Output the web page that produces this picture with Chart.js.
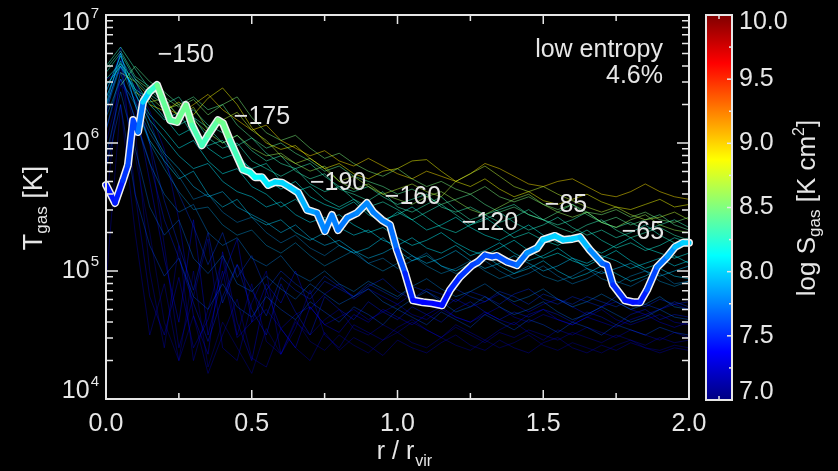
<!DOCTYPE html>
<html>
<head>
<meta charset="utf-8">
<script src="https://cdn.jsdelivr.net/npm/chart.js@4.4.1/dist/chart.umd.min.js"></script>
<style>
  html, body { margin: 0; padding: 0; background: #000; }
  #wrap { width: 838px; height: 471px; }
</style>
</head>
<body>
<div id="wrap"><canvas id="chart" width="838" height="471"></canvas></div>
<script>
// ---- radial grid shared by the tracer profiles (r / r_vir) ----
const radiusGrid = [0.00,0.05,0.10,0.15,0.20,0.25,0.30,0.35,0.40,0.45,0.50,0.55,0.60,0.65,0.70,0.75,0.80,0.85,0.90,0.95,
  1.00,1.05,1.10,1.15,1.20,1.25,1.30,1.35,1.40,1.45,1.50,1.55,1.60,1.65,1.70,1.75,1.80,1.85,1.90,1.95,2.00];

// ---- tracer profiles: log10 T_gas [K] on radiusGrid (null = not present) ----
const tracerLogT = [
  [null,null,null,6.30,6.25,6.32,6.22,6.35,6.43,6.30,6.12,6.00,5.95,5.98,5.88,5.80,5.84,5.76,5.72,5.78,5.80,5.86,5.87,5.78,5.70,5.66,5.72,5.64,5.58,5.62,5.55,5.52,5.56,5.60,5.54,5.50,5.48,5.52,5.56,5.50,5.52],
  [null,null,6.40,6.32,6.35,6.20,6.28,6.10,6.18,6.24,6.10,6.02,5.90,5.84,5.88,5.80,5.70,5.74,5.66,5.60,5.64,5.68,5.62,5.58,5.70,5.76,5.82,5.74,5.66,5.62,5.66,5.60,5.55,5.50,5.46,5.50,5.44,5.40,5.42,5.46,5.40],
  [null,6.55,6.48,6.36,6.26,6.30,6.18,6.08,6.00,6.06,5.96,5.90,5.92,5.84,5.78,5.82,5.70,5.64,5.68,5.60,5.56,5.52,5.58,5.62,5.55,5.48,5.44,5.50,5.56,5.60,5.52,5.46,5.42,5.46,5.38,5.34,5.40,5.44,5.36,5.32,5.30],
  [null,null,null,null,6.28,6.22,6.30,6.38,6.26,6.18,6.10,6.14,6.02,5.96,5.90,5.94,5.86,5.82,5.88,5.82,5.76,5.72,5.78,5.74,5.70,5.76,5.84,5.80,5.74,5.68,5.66,5.70,5.72,5.66,5.60,5.58,5.62,5.68,5.62,5.58,5.56],
  [6.60,6.75,6.58,6.42,6.30,6.36,6.20,6.12,6.00,6.06,5.94,5.86,5.90,5.78,5.72,5.76,5.64,5.60,5.55,5.62,5.50,5.46,5.52,5.58,5.48,5.40,5.44,5.38,5.42,5.48,5.40,5.34,5.30,5.36,5.40,5.32,5.26,5.30,5.34,5.28,5.24],
  [6.50,6.62,6.48,6.30,6.18,6.24,6.05,5.98,6.02,5.88,5.80,5.84,5.70,5.62,5.66,5.56,5.50,5.56,5.46,5.40,5.44,5.50,5.42,5.34,5.30,5.36,5.42,5.34,5.26,5.30,5.24,5.20,5.26,5.32,5.24,5.18,5.22,5.16,5.20,5.26,5.22],
  [6.40,6.68,6.42,6.22,6.10,5.96,6.02,5.86,5.76,5.80,5.66,5.60,5.50,5.56,5.46,5.40,5.44,5.36,5.30,5.34,5.26,5.20,5.24,5.30,5.22,5.16,5.12,5.18,5.24,5.16,5.10,5.14,5.08,5.04,5.10,5.16,5.08,5.02,5.06,5.12,5.06],
  [null,6.45,6.60,6.48,6.40,6.30,6.36,6.26,6.30,6.14,6.04,5.96,6.00,5.92,5.86,5.78,5.82,5.74,5.70,5.66,5.60,5.64,5.58,5.52,5.56,5.60,5.52,5.46,5.50,5.44,5.40,5.46,5.52,5.44,5.38,5.42,5.36,5.40,5.44,5.36,5.32],
  [6.30,6.70,6.30,6.02,5.86,5.72,5.78,5.60,5.50,5.56,5.42,5.36,5.40,5.30,5.24,5.30,5.20,5.14,5.18,5.26,5.16,5.08,5.12,5.04,5.00,5.06,5.12,5.04,4.98,5.02,5.08,5.00,4.94,4.98,5.04,4.98,4.92,4.96,5.02,4.96,4.94],
  [6.45,6.60,6.42,6.34,6.20,6.06,6.12,5.96,5.88,5.92,5.78,5.72,5.64,5.70,5.58,5.52,5.48,5.54,5.44,5.38,5.46,5.40,5.32,5.36,5.42,5.34,5.28,5.24,5.30,5.36,5.28,5.22,5.26,5.18,5.14,5.20,5.26,5.18,5.14,5.10,5.14],
  [6.55,6.70,6.50,6.38,6.30,6.14,6.20,6.04,5.96,6.00,5.86,5.80,5.74,5.80,5.68,5.62,5.66,5.56,5.50,5.54,5.48,5.40,5.46,5.52,5.44,5.36,5.40,5.46,5.38,5.32,5.36,5.42,5.34,5.28,5.32,5.26,5.30,5.36,5.28,5.22,5.26],
  [null,null,6.50,6.42,6.36,6.28,6.34,6.22,6.30,6.36,6.20,6.08,6.02,6.06,5.96,5.88,5.92,5.84,5.78,5.74,5.80,5.72,5.66,5.70,5.64,5.60,5.66,5.58,5.54,5.58,5.52,5.48,5.52,5.46,5.44,5.48,5.42,5.46,5.40,5.38,5.42],
  [6.35,6.64,6.38,6.18,6.04,5.90,5.80,5.84,5.70,5.62,5.58,5.50,5.54,5.44,5.38,5.42,5.34,5.28,5.32,5.24,5.20,5.26,5.18,5.14,5.20,5.12,5.16,5.22,5.14,5.08,5.12,5.18,5.10,5.06,5.12,5.08,5.02,5.06,5.10,5.04,5.08],
  [6.58,6.72,6.52,6.44,6.32,6.22,6.26,6.14,6.08,5.98,6.04,5.92,5.84,5.80,5.84,5.74,5.66,5.62,5.66,5.58,5.52,5.56,5.60,5.50,5.46,5.50,5.44,5.48,5.52,5.44,5.40,5.36,5.40,5.46,5.38,5.34,5.38,5.32,5.36,5.40,5.34],
  [6.28,6.62,6.40,6.12,5.92,5.80,5.66,5.58,5.62,5.50,5.44,5.38,5.30,5.36,5.26,5.20,5.24,5.16,5.10,5.14,5.20,5.12,5.06,5.10,5.16,5.08,5.02,5.06,5.12,5.06,5.00,5.04,5.10,5.02,4.98,5.02,5.06,5.00,4.96,5.00,5.04],
  [6.25,6.60,6.32,6.08,5.90,5.74,5.56,5.60,5.46,5.38,5.42,5.30,5.22,5.28,5.18,5.12,5.20,5.14,5.06,5.10,5.02,5.08,5.14,5.04,4.98,5.02,5.08,5.00,4.94,4.98,5.04,4.96,4.90,4.94,5.00,4.92,4.88,4.94,4.98,4.90,4.92],
  [6.10,6.55,6.18,5.84,5.60,5.46,5.52,5.30,5.20,5.26,5.10,5.04,5.12,4.98,4.92,5.00,4.90,4.84,4.92,4.86,4.80,4.88,4.94,4.86,4.80,4.84,4.90,4.82,4.76,4.80,4.86,4.78,4.72,4.76,4.82,4.76,4.70,4.74,4.80,4.72,4.70],
  [5.90,6.40,5.96,5.50,5.28,5.40,5.10,4.98,5.12,4.90,4.84,4.96,4.86,4.78,4.90,4.82,4.74,4.80,4.86,4.76,4.70,4.78,4.84,4.76,4.68,4.72,4.80,4.72,4.66,4.70,4.76,4.68,4.62,4.66,4.72,4.66,4.60,4.64,4.70,4.64,4.62],
  [6.20,6.50,6.30,6.00,5.80,5.62,5.48,5.50,5.36,5.28,5.32,5.20,5.14,5.22,5.12,5.04,5.10,5.16,5.06,5.00,5.06,5.12,5.04,4.98,5.02,5.08,5.00,4.94,4.98,5.04,4.96,4.92,4.96,5.02,4.94,4.90,4.96,5.00,4.92,4.88,4.92],
  [5.80,6.30,5.60,5.20,4.96,5.10,4.80,4.70,4.90,4.72,4.64,4.80,4.70,4.62,4.76,4.68,4.60,4.72,4.66,4.58,4.70,4.64,4.58,4.68,4.62,4.56,4.66,4.60,4.54,4.62,4.58,4.52,4.60,4.56,4.50,4.58,4.54,4.50,4.56,4.52,4.50],
  [6.20,6.75,5.60,4.80,4.50,4.95,4.40,4.62,5.00,4.48,4.60,4.70,4.55,4.66,4.72,4.58,4.64,4.70,4.62,4.68,4.74,4.66,4.62,4.70,4.64,4.60,4.66,4.72,4.64,4.60,4.66,4.62,4.58,4.64,4.70,4.62,4.58,4.62,4.66,4.60,4.58],
  [5.50,6.60,6.10,5.00,4.40,5.20,4.30,4.70,5.10,4.50,4.90,4.45,4.35,4.60,4.50,4.62,4.70,4.55,4.50,4.58,4.52,4.60,4.54,4.48,4.56,4.50,4.44,4.52,4.48,4.54,4.50,4.46,4.52,4.48,4.44,4.50,4.46,4.42,4.48,4.44,4.46],
  [6.40,6.70,6.30,5.70,5.10,4.60,5.40,4.50,4.95,5.25,4.60,4.90,4.75,5.00,4.70,4.82,4.90,4.78,4.86,4.80,4.74,4.82,4.76,4.70,4.78,4.72,4.76,4.82,4.74,4.68,4.74,4.78,4.72,4.66,4.72,4.76,4.70,4.66,4.70,4.74,4.70],
  [5.80,6.50,5.90,5.30,4.60,4.30,5.00,4.25,4.60,4.40,4.20,4.55,4.35,4.62,4.45,4.38,4.50,4.42,4.36,4.46,4.52,4.44,4.40,4.48,4.42,4.38,4.46,4.40,4.44,4.50,4.42,4.38,4.44,4.40,4.36,4.42,4.46,4.40,4.38,4.42,4.40],
  [6.30,6.60,6.40,6.00,5.55,5.20,4.85,5.30,4.75,5.05,4.85,4.65,4.95,4.85,4.78,4.92,4.86,4.80,4.88,4.94,4.84,4.78,4.86,4.82,4.76,4.84,4.80,4.74,4.82,4.86,4.78,4.74,4.80,4.76,4.72,4.80,4.76,4.72,4.78,4.74,4.76],
  [6.00,6.45,6.35,6.00,5.20,4.40,4.80,5.25,4.40,4.30,4.75,5.00,4.35,4.55,4.85,4.50,4.40,4.58,4.52,4.46,4.56,4.62,4.54,4.48,4.58,4.52,4.46,4.54,4.60,4.52,4.46,4.54,4.50,4.56,4.52,4.48,4.54,4.50,4.46,4.52,4.48],
  [6.50,6.55,6.45,6.25,5.95,5.40,4.65,4.35,5.15,4.60,4.30,4.85,4.55,4.40,4.72,4.58,4.52,4.66,4.60,4.70,4.64,4.58,4.66,4.72,4.64,4.60,4.68,4.62,4.58,4.66,4.70,4.62,4.58,4.64,4.60,4.56,4.62,4.66,4.60,4.56,4.60],
  [6.10,6.50,6.20,5.85,5.40,5.10,4.75,4.45,4.80,5.05,4.70,4.50,4.90,4.68,4.50,4.80,4.70,4.62,4.76,4.68,4.62,4.72,4.66,4.60,4.70,4.76,4.68,4.62,4.68,4.64,4.70,4.66,4.60,4.68,4.64,4.58,4.66,4.70,4.62,4.66,4.64],
  [4.90,6.30,5.30,4.50,4.90,4.30,4.65,4.20,4.50,4.78,4.32,4.25,4.55,4.40,4.30,4.52,4.38,4.48,4.42,4.34,4.46,4.40,4.36,4.44,4.50,4.42,4.38,4.46,4.40,4.36,4.44,4.48,4.40,4.36,4.42,4.38,4.44,4.40,4.36,4.40,4.38],
  [6.35,6.65,6.50,6.18,5.85,5.60,5.35,5.05,5.30,4.95,5.12,4.85,5.00,4.90,4.82,4.96,4.88,4.80,4.90,4.84,4.78,4.88,4.84,4.78,4.86,4.80,4.76,4.84,4.80,4.74,4.82,4.78,4.74,4.80,4.76,4.72,4.78,4.74,4.70,4.76,4.72]
];
// log10 entropy [K cm^2] of each tracer profile
const tracerEntropy = [8.85,8.70,8.60,8.95,8.30,8.20,8.10,8.40,8.00,8.15,8.25,8.50,8.05,8.30,7.95,
  7.85,7.80,7.70,7.90,7.60,
  7.30,7.20,7.40,7.15,7.50,7.25,7.35,7.45,7.20,7.55];

// ---- highlighted low-entropy profile ----
const mainRadius = [0.000,0.031,0.058,0.075,0.093,0.110,0.127,0.148,0.175,0.192,0.220,0.244,0.274,0.295,0.329,0.350,0.384,0.401,0.425,0.470,
  0.494,0.511,0.535,0.556,0.580,0.604,0.631,0.659,0.690,0.724,0.751,0.775,0.796,0.827,0.861,0.895,0.916,0.947,0.974,0.998,
  1.026,1.053,1.087,1.118,1.153,1.180,1.214,1.256,1.276,1.300,1.324,1.341,1.376,1.410,1.444,1.479,1.499,1.540,1.568,1.599,
  1.626,1.660,1.702,1.719,1.739,1.780,1.808,1.832,1.856,1.890,1.925,1.952,1.979,2.000];
const mainTemp = [4.7e5,3.4e5,5.1e5,6.7e5,1.51e6,1.22e6,2.09e6,2.50e6,2.84e6,2.25e6,1.51e6,1.46e6,1.98e6,1.38e6,9.6e5,1.15e6,1.51e6,1.43e6,1.05e6,6.2e5,
  5.9e5,5.4e5,5.4e5,4.7e5,4.96e5,4.9e5,4.5e5,4.1e5,3.0e5,2.84e5,2.05e5,2.74e5,2.09e5,2.6e5,2.84e5,3.4e5,2.89e5,2.5e5,2.29e5,1.46e5,
  9.6e4,5.9e4,5.7e4,5.6e4,5.4e4,7.1e4,9.0e4,1.11e5,1.18e5,1.33e5,1.29e5,1.31e5,1.18e5,1.11e5,1.38e5,1.51e5,1.75e5,1.88e5,1.75e5,1.78e5,
  1.84e5,1.46e5,1.15e5,1.11e5,7.8e4,5.9e4,5.7e4,5.7e4,7.1e4,1.07e5,1.29e5,1.54e5,1.66e5,1.66e5];
const mainEntropy = [7.45,7.40,7.50,7.55,7.60,7.55,7.90,8.10,8.45,8.45,8.40,8.40,8.50,8.40,8.30,8.35,8.45,8.50,8.40,8.25,
  8.20,8.15,8.10,8.05,8.05,8.00,8.00,7.95,7.85,7.85,7.70,7.80,7.70,7.75,7.75,7.80,7.75,7.75,7.75,7.65,
  7.55,7.40,7.38,7.38,7.38,7.45,7.50,7.55,7.58,7.62,7.60,7.60,7.62,7.65,7.75,7.85,7.95,8.00,7.98,7.98,
  8.00,7.85,7.70,7.65,7.55,7.45,7.42,7.42,7.50,7.65,7.75,7.90,7.98,8.00];

// ---- annotations along the profile ----
const noteText = ['\u2212150','\u2212175','\u2212190','\u2212160','\u2212120','\u221285','\u221265'];
const noteRadius = [0.274,0.535,0.796,1.053,1.317,1.578,1.842];
const noteTemp = [4.87e6,1.6e6,4.87e5,3.8e5,2.37e5,3.28e5,2.02e5];

// ---- axes ----
const xTickValues = [0,0.25,0.5,0.75,1,1.25,1.5,1.75,2];
const xTickLabels = ['0.0','0.5','1.0','1.5','2.0'];
const xLabelValues = [0,0.5,1,1.5,2];
const yDecades = [4,5,6,7];
const cbarTickValues = [7.0,7.25,7.5,7.75,8.0,8.25,8.5,8.75,9.0,9.25,9.5,9.75,10.0];
const cbarLabelValues = [7.0,7.5,8.0,8.5,9.0,9.5,10.0];

const FG = '#e6e6e6';
const FONT = '"Liberation Sans", Arial, Helvetica, sans-serif';
const S_MIN = 7, S_MAX = 10;

function jet(v) {
  const c = t => Math.round(255 * Math.max(0, Math.min(1, 1.5 - Math.abs(t))));
  return [c(4 * v - 3), c(4 * v - 2), c(4 * v - 1)];
}
function entropyColor(s, a) {
  const [r, g, b] = jet((s - S_MIN) / (S_MAX - S_MIN));
  return `rgba(${r},${g},${b},${a === undefined ? 1 : a})`;
}

const datasets = [];
// colored highlighted profile (on top)
datasets.push({
  data: mainRadius.map((r, i) => ({ x: r, y: mainTemp[i] })),
  borderWidth: 5,
  borderColor: entropyColor(mainEntropy[0]),
  segment: {
    borderColor: ctx => entropyColor((mainEntropy[ctx.p0DataIndex] + mainEntropy[ctx.p1DataIndex]) / 2)
  },
  borderJoinStyle: 'round', borderCapStyle: 'round',
  pointRadius: 0, tension: 0, order: 0, clip: 4
});
// white casing under it
datasets.push({
  data: mainRadius.map((r, i) => ({ x: r, y: mainTemp[i] })),
  borderWidth: 8,
  borderColor: '#f0f0f0',
  borderJoinStyle: 'round', borderCapStyle: 'round',
  pointRadius: 0, tension: 0, order: 1, clip: 4
});
tracerLogT.forEach((row, k) => {
  const pts = [];
  row.forEach((v, j) => { if (v !== null) pts.push({ x: radiusGrid[j], y: Math.pow(10, v) }); });
  const warm = tracerEntropy[k] >= 7.95;
  datasets.push({
    data: pts,
    borderWidth: 0.9,
    borderColor: entropyColor(tracerEntropy[k], warm ? 0.55 : 0.42),
    pointRadius: 0, tension: 0, order: warm ? 2 : 3, clip: 0
  });
});

function drawSup(ctx, base, sup, xRight, yMid, size, supSize) {
  ctx.font = `${size}px ${FONT}`;
  const wb = ctx.measureText(base).width;
  ctx.font = `${supSize}px ${FONT}`;
  const ws = ctx.measureText(sup).width;
  ctx.textBaseline = 'middle';
  ctx.textAlign = 'left';
  ctx.font = `${size}px ${FONT}`;
  ctx.fillText(base, xRight - ws - wb - 1, yMid);
  ctx.font = `${supSize}px ${FONT}`;
  ctx.fillText(sup, xRight - ws, yMid - 9);
}

const framePlugin = {
  id: 'frame',
  beforeDraw(chart) {
    const ctx = chart.ctx;
    ctx.save();
    ctx.fillStyle = '#000';
    ctx.fillRect(0, 0, chart.width, chart.height);
    ctx.restore();
  },
  afterDraw(chart) {
    const ctx = chart.ctx;
    const { left, right, top, bottom } = chart.chartArea;
    const xs = chart.scales.x, ys = chart.scales.y;
    ctx.save();
    ctx.strokeStyle = FG;
    ctx.fillStyle = FG;
    ctx.lineWidth = 2;
    ctx.strokeRect(left, top, right - left, bottom - top);

    // x ticks (top and bottom, inward)
    ctx.lineWidth = 1.5;
    xTickValues.forEach(v => {
      const px = xs.getPixelForValue(v);
      const major = xLabelValues.includes(v);
      const len = major ? 9 : 6;
      ctx.beginPath();
      ctx.moveTo(px, bottom); ctx.lineTo(px, bottom - len);
      ctx.moveTo(px, top); ctx.lineTo(px, top + len);
      ctx.stroke();
    });
    // y ticks (left and right, inward)
    [4, 5, 6].forEach(d => {
      for (let k = 1; k <= 9; k++) {
        const py = ys.getPixelForValue(k * Math.pow(10, d));
        const len = k === 1 ? 12 : 7;
        ctx.beginPath();
        ctx.moveTo(left, py); ctx.lineTo(left + len, py);
        ctx.moveTo(right, py); ctx.lineTo(right - len, py);
        ctx.stroke();
      }
    });

    // x tick labels
    ctx.font = `25px ${FONT}`;
    ctx.textAlign = 'center';
    ctx.textBaseline = 'middle';
    xLabelValues.forEach((v, i) => {
      ctx.fillText(xTickLabels[i], xs.getPixelForValue(v), 424);
    });
    // y tick labels 10^n
    yDecades.forEach(d => {
      let py = ys.getPixelForValue(Math.pow(10, d));
      if (d === 7) py += 8;
      if (d === 4) py -= 8;
      drawSup(ctx, '10', String(d), left - 7, py, 25, 15);
    });

    // x title  r / r_vir
    ctx.textBaseline = 'alphabetic';
    ctx.textAlign = 'left';
    ctx.font = `25px ${FONT}`;
    const t1 = 'r / r';
    const w1 = ctx.measureText(t1).width;
    ctx.font = `16px ${FONT}`;
    const w2 = ctx.measureText('vir').width;
    const x0 = 404 - (w1 + w2) / 2;
    ctx.font = `25px ${FONT}`;
    ctx.fillText(t1, x0, 459);
    ctx.font = `16px ${FONT}`;
    ctx.fillText('vir', x0 + w1 + 1, 466);

    // y title  T_gas [K]
    ctx.save();
    ctx.translate(42, 208);
    ctx.rotate(-Math.PI / 2);
    ctx.font = `27px ${FONT}`;
    const a1 = ctx.measureText('T').width;
    const a3 = ctx.measureText(' [K]').width;
    ctx.font = `17px ${FONT}`;
    const a2 = ctx.measureText('gas').width;
    let sx = -(a1 + a2 + a3) / 2;
    ctx.font = `27px ${FONT}`;
    ctx.fillText('T', sx, 0);
    ctx.font = `17px ${FONT}`;
    ctx.fillText('gas', sx + a1, 5);
    ctx.font = `27px ${FONT}`;
    ctx.fillText(' [K]', sx + a1 + a2, 0);
    ctx.restore();

    // annotations
    ctx.font = `25px ${FONT}`;
    ctx.textAlign = 'center';
    ctx.textBaseline = 'middle';
    noteText.forEach((t, i) => {
      ctx.fillText(t, xs.getPixelForValue(noteRadius[i]), ys.getPixelForValue(noteTemp[i]));
    });
    ctx.textAlign = 'right';
    ctx.fillText('low entropy', 663, 50);
    ctx.fillText('4.6%', 663, 76);

    // colorbar
    const cbL = 706, cbR = 732, cbT = top, cbB = bottom + 1;
    const grad = ctx.createLinearGradient(0, cbB, 0, cbT);
    for (let i = 0; i <= 48; i++) {
      const v = i / 48;
      const [r, g, b] = jet(v);
      grad.addColorStop(v, `rgb(${r},${g},${b})`);
    }
    ctx.fillStyle = grad;
    ctx.fillRect(cbL, cbT, cbR - cbL, cbB - cbT);
    ctx.strokeStyle = FG;
    ctx.lineWidth = 2;
    ctx.strokeRect(cbL, cbT, cbR - cbL, cbB - cbT);
    const cbY = s => cbB - (s - S_MIN) / (S_MAX - S_MIN) * (cbB - cbT);
    ctx.lineWidth = 1.5;
    cbarTickValues.forEach(s => {
      const py = cbY(s);
      const len = cbarLabelValues.includes(s) ? 5 : 3;
      ctx.beginPath(); ctx.moveTo(cbR, py); ctx.lineTo(cbR - len, py); ctx.stroke();
    });
    const cbMid = (cbL + cbR) / 2;
    ctx.beginPath();
    ctx.moveTo(cbMid, cbT); ctx.lineTo(cbMid, cbT + 4);
    ctx.moveTo(cbMid, cbB); ctx.lineTo(cbMid, cbB - 4);
    ctx.stroke();
    ctx.fillStyle = FG;
    ctx.font = `25px ${FONT}`;
    ctx.textAlign = 'left';
    ctx.textBaseline = 'middle';
    cbarLabelValues.forEach(s => {
      let py = cbY(s);
      if (s === S_MAX) py += 7;
      if (s === S_MIN) py -= 8;
      ctx.fillText(s.toFixed(1), 739, py);
    });

    // colorbar title  log S_gas [K cm^2]
    ctx.save();
    ctx.translate(815, 208);
    ctx.rotate(-Math.PI / 2);
    ctx.textBaseline = 'alphabetic';
    ctx.textAlign = 'left';
    const parts = [
      ['log S', 26, 0], ['gas', 17, 5], [' [K cm', 26, 0], ['2', 16, -11], [']', 26, 0]
    ];
    let total = 0;
    parts.forEach(p => { ctx.font = `${p[1]}px ${FONT}`; p.push(ctx.measureText(p[0]).width); total += p[3]; });
    let cx = -total / 2;
    parts.forEach(p => { ctx.font = `${p[1]}px ${FONT}`; ctx.fillText(p[0], cx, p[2]); cx += p[3]; });
    ctx.restore();

    ctx.restore();
  }
};

new Chart(document.getElementById('chart'), {
  type: 'line',
  data: { datasets },
  options: {
    responsive: false,
    animation: false,
    events: [],
    parsing: true,
    layout: { padding: { left: 106, top: 15, right: 149, bottom: 72 } },
    scales: {
      x: { type: 'linear', min: 0, max: 2, display: false },
      y: { type: 'logarithmic', min: 1e4, max: 1e7, display: false }
    },
    plugins: { legend: { display: false }, tooltip: { enabled: false } }
  },
  plugins: [framePlugin]
});
</script>
</body>
</html>
